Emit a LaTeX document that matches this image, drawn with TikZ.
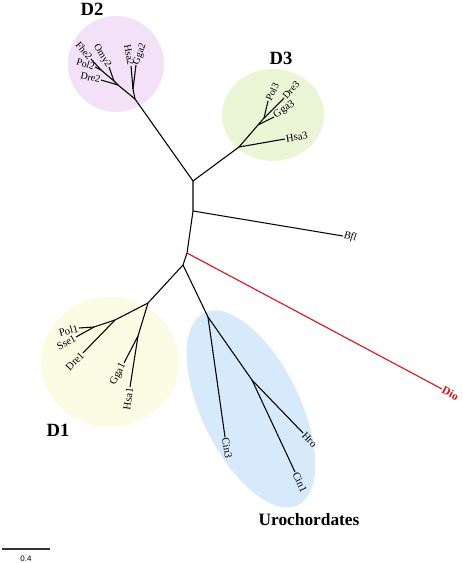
\documentclass[tikz,border=0pt]{standalone}
\usepackage{fontspec}
\setmainfont{Liberation Serif}
\newfontfamily\barfont{Liberation Sans}
\definecolor{CladeDone}{HTML}{FAFCE3}
\definecolor{CladeDtwo}{HTML}{F3E1F8}
\definecolor{CladeDthree}{HTML}{EAF6D5}
\definecolor{CladeUro}{HTML}{D6EAFB}
\definecolor{DioRed}{HTML}{E30613}
\tikzset{
  branch/.style={line width=0.8pt},
  tipleft/.style={font=\fontsize{8}{9.6}\selectfont,inner sep=0.6pt,anchor=east},
  tipright/.style={font=\fontsize{8}{9.6}\selectfont,inner sep=0.6pt,anchor=west},
  smalltip/.style={font=\fontsize{7.5}{9}\selectfont,inner sep=0.3pt},
  cladename/.style={font=\bfseries\fontsize{14}{16}\selectfont,inner sep=0pt},
}

\begin{document}
\begin{tikzpicture}[x=0.75pt,y=-0.75pt]
        \useasboundingbox (0,0) rectangle (462,563);

        % clade shading
        \fill[CladeDtwo] (116,64) circle [radius=48];
        \fill[CladeDthree] (273,115) ellipse [x radius=51, y radius=46];
        \fill[CladeDone] (110,362) ellipse [x radius=69, y radius=65];
        \fill[CladeUro,rotate around={-64:(251,409)}]
          (251,409) ellipse [x radius=107, y radius=49];

        % internal nodes
        \coordinate (nA) at (193,181);
        \coordinate (nB) at (193,211);
        \coordinate (nC) at (187,253);
        \coordinate (nD) at (183,265);
        \coordinate (nRtwo) at (135,99);
        \coordinate (nHtwo) at (133,89);
        \coordinate (nEtwo) at (118,85);
        \coordinate (nFtwo) at (114,81);
        \coordinate (nPtwo) at (101,70);
        \coordinate (nRthree) at (239,147);
        \coordinate (nGthree) at (258,125);
        \coordinate (nQthree) at (264,118);
        \coordinate (nRone) at (148,303);
        \coordinate (nLone) at (115,320);
        \coordinate (nPone) at (94,327);
        \coordinate (nGone) at (138,336);
        \coordinate (nU) at (208,317);
        \coordinate (nV) at (252,380);

        % D2 tips
        \node[tipleft,smalltip,rotate=-80] (Hsa2) at (131,66) {Hsa2};
        \node[tipright,smalltip,rotate=70] (Gga2) at (136,65) {Gga2};
        \node[tipleft,smalltip,rotate=-13] (Dre2) at (101,80) {Dre2};
        \node[tipleft,smalltip,rotate=-58] (Omy2) at (109,67) {Omy2};
        \node[tipleft,smalltip,rotate=-18] (Pol2) at (95,67) {Pol2};
        \node[tipleft,smalltip,rotate=-50] (Fhe2) at (91,59) {Fhe2};

        % D3 tips
        \node[tipright,rotate=10] (Hsa3) at (285,139) {Hsa3};
        \node[tipright,rotate=35] (Gga3) at (274,117) {Gga3};
        \node[tipright,smalltip,rotate=64] (Pol3) at (268,101) {Pol3};
        \node[tipright,smalltip,rotate=48] (Dre3) at (284,98) {Dre3};

        % D1 tips
        \node[tipleft,rotate=15] (Pol1) at (79,328) {Pol1};
        \node[tipleft,rotate=30] (Sse1) at (76,337) {Sse1};
        \node[tipleft,rotate=46] (Dre1) at (83,353) {Dre1};
        \node[tipleft,rotate=63] (Gga1) at (124,363) {Gga1};
        \node[tipleft,rotate=82] (Hsa1) at (130,387) {Hsa1};

        % urochordate tips
        \node[tipright,rotate=-80] (Cin3) at (225,437) {Cin3};
        \node[tipright,rotate=-46] (Hro) at (303,433) {Hro};
        \node[tipright,rotate=-65] (Cin1) at (295,472) {Cin1};

        % outgroups
        \node[tipright,rotate=-8,font=\itshape\fontsize{8}{9.6}\selectfont]
          (Bfl) at (343,236) {Bfl};
        \node[tipright,rotate=-28,text=DioRed,font=\bfseries\fontsize{8.5}{10}\selectfont]
          (Dio) at (442,389) {Dio};

        % backbone
        \draw[branch] (nRtwo) -- (nA) -- (nB) -- (nC) -- (nD);
        \draw[branch] (nA) -- (nRthree);
        \draw[branch] (nB) -- (Bfl.west);
        \draw[branch,DioRed] (nC) -- (Dio.west);
        \draw[branch] (nD) -- (nRone);
        \draw[branch] (nD) -- (nU);

        % D2 branches
        \draw[branch] (nRtwo) -- (nHtwo) -- (Hsa2.east);
        \draw[branch] (nHtwo) -- (Gga2.west);
        \draw[branch] (nRtwo) -- (nEtwo) -- (Dre2.east);
        \draw[branch] (nEtwo) -- (nFtwo) -- (Omy2.east);
        \draw[branch] (nFtwo) -- (nPtwo) -- (Pol2.east);
        \draw[branch] (nPtwo) -- (Fhe2.east);

        % D3 branches
        \draw[branch] (nRthree) -- (Hsa3.west);
        \draw[branch] (nRthree) -- (nGthree) -- (Gga3.west);
        \draw[branch] (nGthree) -- (nQthree) -- (Dre3.west);
        \draw[branch] (nQthree) -- (Pol3.west);

        % D1 branches
        \draw[branch] (nRone) -- (nLone) -- (Dre1.east);
        \draw[branch] (nLone) -- (nPone) -- (Pol1.east);
        \draw[branch] (nPone) -- (Sse1.east);
        \draw[branch] (nRone) -- (nGone) -- (Gga1.east);
        \draw[branch] (nGone) -- (Hsa1.east);

        % urochordate branches
        \draw[branch] (nU) -- (Cin3.west);
        \draw[branch] (nU) -- (nV) -- (Hro.west);
        \draw[branch] (nV) -- (Cin1.west);

        % clade names
        \node[cladename] (labDtwo) at (92,9) {D2};
        \node[cladename] (labDthree) at (281,58) {D3};
        \node[cladename] (labDone) at (58,430) {D1};
        \node[cladename,font=\bfseries\fontsize{13}{15}\selectfont]
          (labUro) at (309,520) {Urochordates};

        % scale bar
        \coordinate (sL) at (2,549);
        \coordinate (sR) at (50,549);
        \draw[line width=0.9pt,black!80] (sL) -- (sR);
        \node[font=\barfont\fontsize{6}{7}\selectfont,inner sep=0pt]
          (sLab) at (26,559) {0.4};
      \end{tikzpicture}
\end{document}
